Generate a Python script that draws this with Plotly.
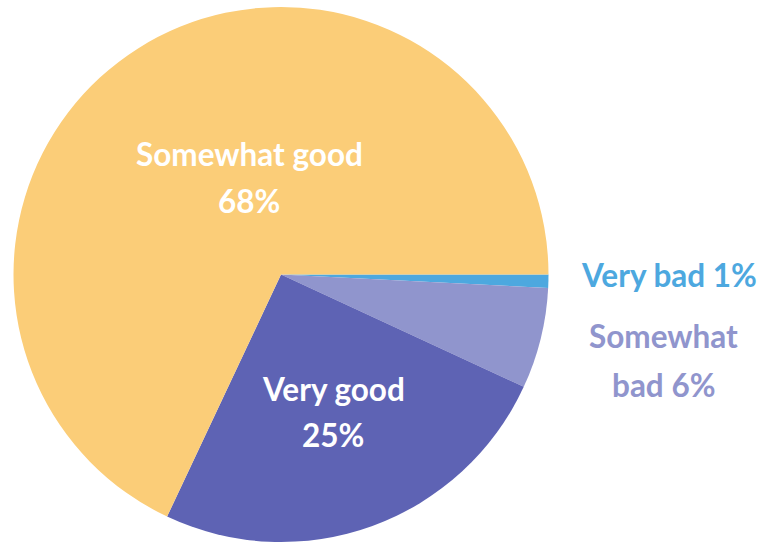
import plotly.graph_objects as go

categories = ["Very bad", "Somewhat bad", "Very good", "Somewhat good"]
values = [0.8, 6.1, 25.1, 68.0]
slice_colors = ["#4DA8DF", "#9095CD", "#5E63B4", "#FBCD78"]

total = sum(values)
pct = [f"{round(v / total * 100)}%" for v in values]

fig = go.Figure(
    go.Pie(
        labels=categories,
        values=values,
        sort=False,
        direction="clockwise",
        rotation=90,
        marker=dict(colors=slice_colors, line=dict(width=0)),
        textinfo="none",
        hoverinfo="label+percent",
        showlegend=False,
        domain=dict(x=[13 / 763, 549 / 763], y=[1 / 543, 536 / 543]),
    )
)

FONT = "Lato, 'Open Sans', sans-serif"
SIZE = 31.5

# (text, x_px, y_px, color)
label_lines = [
    (categories[3], 249, 154, "white"),
    (pct[3], 249, 201, "white"),
    (categories[2], 333, 389, "white"),
    (pct[2], 333, 435, "white"),
    (f"{categories[0]} {pct[0]}", 669, 275, slice_colors[0]),
    ("Somewhat", 663, 336, slice_colors[1]),
    (f"bad {pct[1]}", 663, 385, slice_colors[1]),
]

for text, xp, yp, col in label_lines:
    fig.add_annotation(
        x=xp / 763, y=1 - yp / 543, xref="paper", yref="paper",
        text=f"<b>{text}</b>", showarrow=False,
        xanchor="center", yanchor="middle",
        font=dict(family=FONT, size=SIZE, color=col),
    )

fig.update_layout(
    width=763, height=543,
    margin=dict(l=0, r=0, t=0, b=0),
    paper_bgcolor="white",
    plot_bgcolor="white",
)

fig.write_html(
    "out.html",
    config={"displayModeBar": False},
    post_script="document.body.style.margin='0';",
)
